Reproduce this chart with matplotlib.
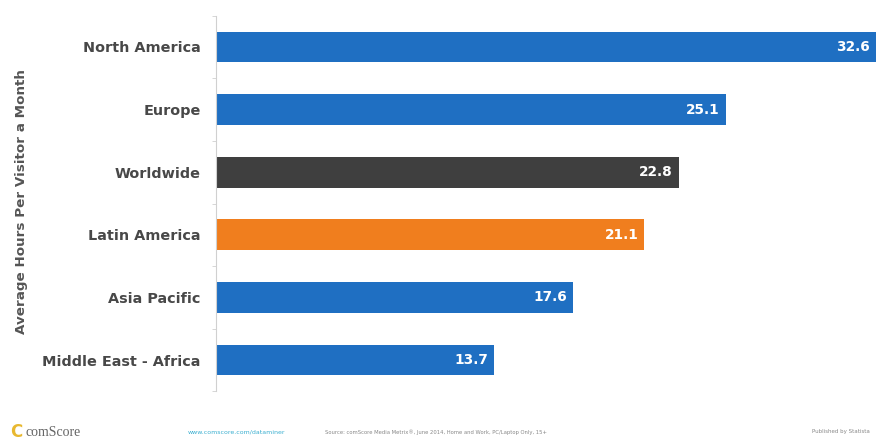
import matplotlib
matplotlib.use("Agg")
import matplotlib.pyplot as plt

categories = ["North America", "Europe", "Worldwide", "Latin America", "Asia Pacific", "Middle East - Africa"]
values = [32.6, 25.1, 22.8, 21.1, 17.6, 13.7]
colors = ["#1F6FC2", "#1F6FC2", "#3F3F3F", "#F07E1E", "#1F6FC2", "#1F6FC2"]

plt.rcParams['font.family'] = ['DejaVu Sans']

fig = plt.figure(figsize=(8.76, 4.45), dpi=100)
top_px, bot_px = 15.7, 391.3
ax = fig.add_axes([216/876, 1 - bot_px/445, 660/876, (bot_px - top_px)/445])

ypos = list(range(len(categories)))
ax.barh(ypos, values, height=0.49, color=colors, zorder=2)
ax.set_ylim(len(categories) - 0.5, -0.5)
ax.set_xlim(0, 32.5)
ax.set_yticks(ypos)
ax.set_yticklabels(categories, fontsize=10.4, fontweight='bold', color='#484848')
ax.tick_params(axis='y', length=0, pad=11)
ax.set_yticks([i + 0.5 for i in range(-1, len(categories))], minor=True)
ax.tick_params(axis='y', which='minor', length=3, color='#D0D0D0')
ax.set_xticks([])
for s in ['top', 'right', 'bottom']:
    ax.spines[s].set_visible(False)
ax.spines['left'].set_color('#D0D0D0')
ax.spines['left'].set_linewidth(0.8)

for y, v in zip(ypos, values):
    ax.text(min(v, 32.5) - 0.3, y, f"{v:.1f}", ha='right', va='center',
            color='white', fontsize=9.8, fontweight='bold', zorder=3)

fig.text(22/876, 1 - 202/445, "Average Hours Per Visitor a Month", rotation=90,
         ha='center', va='center', fontsize=9.7, color='#555555', fontweight='bold')

# footer
fig.text(10/876, 1 - 432/445, "C", fontsize=12, color='#E8B830', ha='left', va='center', fontweight='bold')
fig.text(26/876, 1 - 432/445, "comScore", fontsize=10, color='#666666', ha='left', va='center',
         family=['Liberation Serif', 'DejaVu Serif'])
fig.text(188/876, 1 - 432/445, "www.comscore.com/dataminer", fontsize=4.5, color='#3AAFD0', ha='left', va='center')
fig.text(325/876, 1 - 432/445, "Source: comScore Media Metrix®, June 2014, Home and Work, PC/Laptop Only, 15+",
         fontsize=3.8, color='#888888', ha='left', va='center')
fig.text(870/876, 1 - 432/445, "Published by Statista", fontsize=4, color='#888888', ha='right', va='center')

fig.savefig("out.png", dpi=100, facecolor='white')
